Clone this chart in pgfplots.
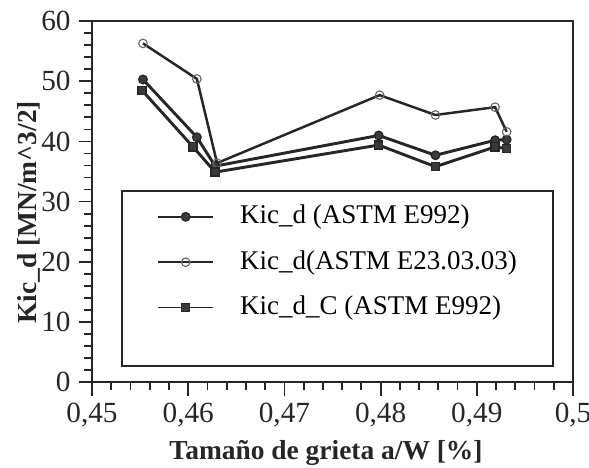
\documentclass[border=0pt]{standalone}
\usepackage{pgfplots}
\pgfplotsset{compat=1.18}
\usepackage{fontspec}
\setmainfont{Liberation Serif}
\definecolor{ink}{HTML}{262626}
\definecolor{markgray}{HTML}{3A3A3A}

\pgfplotsset{
  /pgf/number format/assume math mode=true,
}

\begin{document}
\begin{tikzpicture}
\useasboundingbox (-40.9pt,-38.2pt) rectangle (220.9pt,169.8pt);
\begin{axis}[
  at={(0,0)}, anchor=south west,
  scale only axis, width=213.8pt, height=160.4pt,
  xmin=0.45, xmax=0.5, ymin=0, ymax=60,
  xtick={0.45,0.46,0.47,0.48,0.49,0.5},
  ytick={0,10,20,30,40,50,60},
  xticklabel={\pgfmathprintnumber[use comma,fixed,precision=2]{\tick}},
  yticklabel={\pgfmathprintnumber[fixed,precision=0]{\tick}},
  minor x tick num=4, minor y tick num=4,
  tick align=outside, xtick pos=bottom, ytick pos=left,
  major tick length=6pt, minor tick length=3.5pt,
  axis line style={line width=0.9pt, ink},
  every tick/.style={ink, line width=0.8pt},
  tick label style={font=\fontsize{13}{15}\selectfont, text=ink},
  xlabel={Tamaño de grieta a/W [\%]},
  ylabel={Kic\_d [MN/m\textasciicircum 3/2]},
  every axis x label/.style={at={(axis description cs:0.4865,-0.198)}, anchor=center,
    font=\fontsize{12.2}{14}\selectfont\bfseries, text=ink},
  every axis y label/.style={at={(axis description cs:-0.131,0.47)}, rotate=90, anchor=center,
    font=\fontsize{12.2}{14}\selectfont\bfseries, text=ink},
  clip=false,
  legend style={
    draw=none, fill=none,
    at={(axis cs:0.45676,29.6)}, anchor=north west,
    inner sep=0pt, row sep=9.2pt, column sep=11.6pt,
    font=\fontsize{12}{14}\selectfont,
    nodes={inner sep=0pt, text height=8.5pt, text depth=2.5pt, anchor=west},
  },
  legend cell align=left,
  legend image code/.code={
    \draw[mark repeat=2, mark phase=2, #1, line width=0.7pt]
      plot coordinates {(0pt,0pt) (12.2pt,0pt) (24.4pt,0pt)};
  },
]

% frame around the legend
\draw[ink, line width=1pt]
  (axis cs:0.45312,31.7) rectangle (axis cs:0.49792,2.66);

% Kic_d (ASTM E992)
\addplot[ink, line width=1.3pt, mark=*, mark size=1.9pt,
  mark options={fill=markgray, draw=ink, line width=0.6pt}]
  coordinates {
    (0.4553,50.3) (0.4609,40.7) (0.4628,35.9) (0.4798,41.0)
    (0.4857,37.7) (0.4919,40.2) (0.4931,40.3)
  };
\addlegendentry{Kic\_d (ASTM E992)}

% Kic_d (ASTM E23.03.03)
\addplot[ink, line width=1.1pt, mark=o, mark size=1.9pt,
  mark options={fill=white, draw=ink!70, line width=0.5pt}]
  coordinates {
    (0.4553,56.3) (0.4609,50.4) (0.4630,36.4) (0.4799,47.7)
    (0.4857,44.4) (0.4919,45.7) (0.4931,41.6)
  };
\addlegendentry{Kic\_d(ASTM E23.03.03)}

% Kic_d_C (ASTM E992)
\addplot[ink, line width=1.3pt, mark=square*, mark size=1.8pt,
  mark options={fill=markgray, draw=ink, line width=0.6pt}]
  coordinates {
    (0.4552,48.5) (0.4605,39.1) (0.4628,34.9) (0.4798,39.4)
    (0.4857,35.8) (0.4919,39.1) (0.4931,38.8)
  };
\addlegendentry{Kic\_d\_C (ASTM E992)}

\end{axis}
\end{tikzpicture}
\end{document}
